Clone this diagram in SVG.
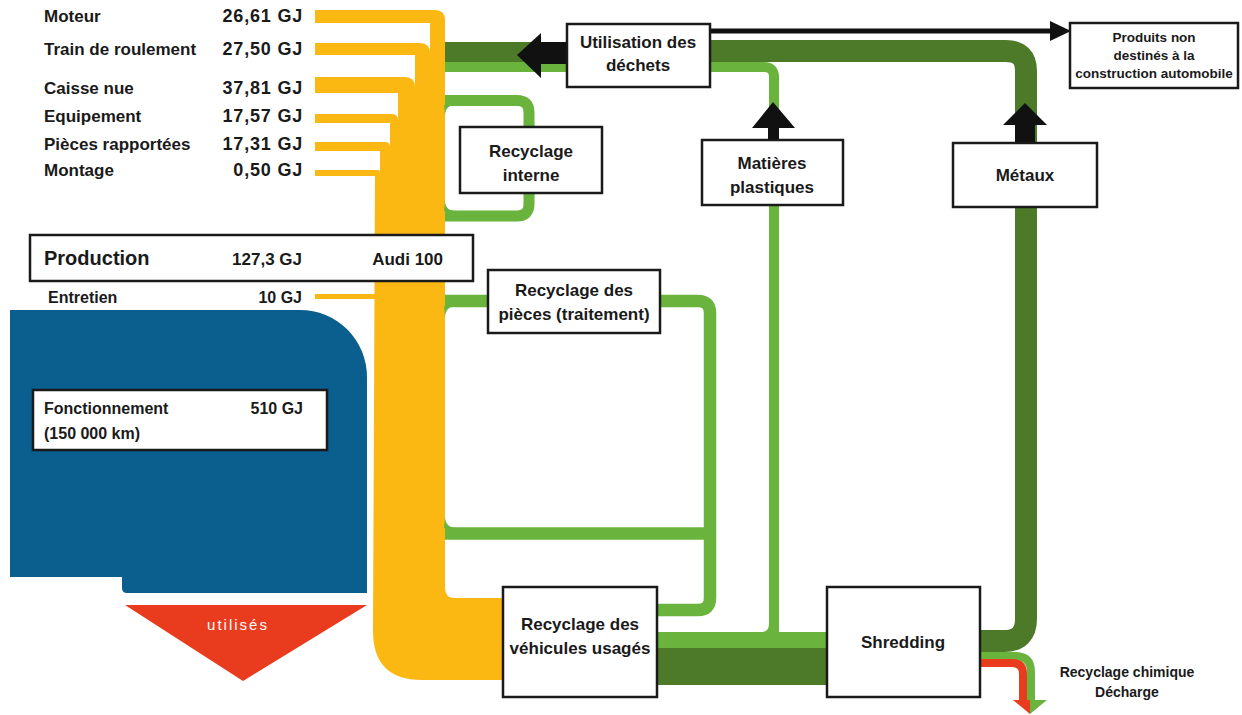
<svg xmlns="http://www.w3.org/2000/svg" width="1242" height="715" viewBox="0 0 1242 715">
<style>
text{font-family:"Liberation Sans",Arial,sans-serif;font-weight:bold;fill:#1a1a1a}
.box{fill:#ffffff;stroke:#1a1a1a;stroke-width:2.5}
.lbl{font-size:17px}
.val{font-size:18px;text-anchor:end;letter-spacing:0.8px}
.bt{font-size:17px;text-anchor:middle}
.sm{font-size:13.5px;text-anchor:middle}
.yl{fill:#fbb813}
.dg{fill:#4d7a28}
.lg{fill:#6ab43e}
.dgs{fill:none;stroke:#4d7a28}
.lgs{fill:none;stroke:#6ab43e}
.blk{fill:#111111}
</style>
<rect x="0" y="0" width="1242" height="715" fill="#ffffff"/>

<g id="fonctionnement-area">
<path d="M10,310 H300 A67,67 0 0 1 367,377 V593 H127 Q122,593 122,588 V577 H10 Z" fill="#0a5f8f"/>
<polygon points="125,605 367,605 243,681" fill="#e93b1e"/>
<text x="238" y="630" style="font-size:15px;font-weight:normal;fill:#ffffff;letter-spacing:2px" text-anchor="middle">utilisés</text>
</g>

<g id="connectors">
<!-- yellow production branches -->
<path class="yl" d="M315,10 H435 Q445,10 445,20 V300 H430 V23 H315 Z"/>
<path class="yl" d="M315,43 H420 Q430,43 430,53 V300 H415 V55 H315 Z"/>
<path class="yl" d="M315,77 H405 Q415,77 415,87 V300 H398 V93 H315 Z"/>
<path class="yl" d="M315,114 H392 Q398,114 398,120 V300 H390 V123 H315 Z"/>
<path class="yl" d="M315,142 H385 Q390,142 390,147 V300 H380 V151 H315 Z"/>
<path class="yl" d="M315,170 H378 Q380,170 380,172 V300 H375 V176 H315 Z"/>
<rect class="yl" x="315" y="294" width="62" height="5"/>
<path class="yl" d="M375,176 H445 V588 Q445,598 455,598 H510 V680 H422 Q373,680 373,631 Z"/>
<!-- recyclage interne loop -->
<path class="lgs" stroke-width="11" d="M445,100.5 H517 Q529,100.5 529,112.5 V204 Q529,216 517,216 H445"/>
<path class="lg" d="M444,105 H456 Q445,105 445,116 Z"/>
<path class="lg" d="M444,211 H456 Q445,211 445,200 Z"/>
<!-- recyclage pieces loop -->
<path class="lgs" stroke-width="12.5" d="M445,301 H698 Q710,301 710,313 V598 Q710,610 698,610 H655"/>
<path class="lgs" stroke-width="12.5" d="M445,533.5 H710"/>
<path class="lg" d="M444,306 H457 Q445,306 445,318 Z"/>
<path class="lg" d="M444,528 H457 Q445,528 445,516 Z"/>
<!-- plastics line -->
<rect class="lg" x="445" y="62" width="124" height="10"/>
<path class="lgs" stroke-width="10" d="M708,67 H764 Q774,67 774,77 V628"/>
<path class="lg" d="M655,632 H761 Q769,632 769,624 V610 H779 V632 H829 V648 H655 Z"/>
<!-- dark green main flow -->
<rect class="dg" x="445" y="42" width="124" height="20"/>
<path class="dgs" stroke-width="22" d="M708,51 H1006 Q1026,51 1026,71 V619 Q1026,641 1004,641 H978"/>
<rect class="dg" x="655" y="648" width="174" height="37"/>
<!-- chemical recycling / landfill -->
<path fill="none" stroke="#6ab43e" stroke-width="8" d="M978,656 H1015 Q1031,656 1031,672 V702"/>
<path fill="none" stroke="#e93b1e" stroke-width="8" d="M978,663 H1012 Q1023,663 1023,674 V702"/>
<polygon points="1013,700 1030,700 1030,714" fill="#e93b1e"/>
<polygon points="1030,700 1047,700 1030,714" fill="#6ab43e"/>
<!-- black arrows -->
<rect class="blk" x="537" y="42" width="31" height="22"/>
<polygon class="blk" points="517,55 541,33 541,78"/>
<line x1="710" y1="31" x2="1052" y2="31" stroke="#111111" stroke-width="5"/>
<polygon class="blk" points="1050,21 1071,31 1050,41"/>
<rect class="blk" x="768" y="126" width="11" height="15"/>
<polygon class="blk" points="752,128 773,102 795,128"/>
<rect class="blk" x="1015" y="123" width="20" height="21"/>
<polygon class="blk" points="1003,125 1025,103 1047,125"/>
</g>

<g id="production-inputs">
<text class="lbl" x="44" y="22">Moteur</text>
<text class="val" x="303" y="22">26,61 GJ</text>
<text class="lbl" x="44" y="55">Train de roulement</text>
<text class="val" x="303" y="55">27,50 GJ</text>
<text class="lbl" x="44" y="94">Caisse nue</text>
<text class="val" x="303" y="94">37,81 GJ</text>
<text class="lbl" x="44" y="122">Equipement</text>
<text class="val" x="303" y="122">17,57 GJ</text>
<text class="lbl" x="44" y="150">Pièces rapportées</text>
<text class="val" x="303" y="150">17,31 GJ</text>
<text class="lbl" x="44" y="176">Montage</text>
<text class="val" x="303" y="176">0,50 GJ</text>
</g>

<g id="production">
<rect class="box" x="30" y="235" width="443" height="46"/>
<text x="44" y="265" style="font-size:20px">Production</text>
<text x="302" y="265" style="font-size:17px" text-anchor="end">127,3 GJ</text>
<text x="443" y="265" style="font-size:17px" text-anchor="end">Audi 100</text>
</g>

<g id="entretien">
<text x="48" y="303" style="font-size:16px">Entretien</text>
<text x="302" y="303" style="font-size:16px" text-anchor="end">10 GJ</text>
</g>

<g id="fonctionnement">
<rect class="box" x="33" y="390" width="294" height="60"/>
<text x="44" y="414" style="font-size:16px">Fonctionnement</text>
<text x="303" y="414" style="font-size:16px" text-anchor="end">510 GJ</text>
<text x="44" y="439" style="font-size:16px">(150 000 km)</text>
</g>

<g id="utilisation-dechets">
<rect class="box" x="567" y="24" width="143" height="63"/>
<text class="bt" x="638" y="48">Utilisation des</text>
<text class="bt" x="638" y="71">déchets</text>
</g>

<g id="produits-non-auto">
<rect class="box" x="1070" y="23" width="168" height="65"/>
<text class="sm" x="1154" y="42">Produits non</text>
<text class="sm" x="1154" y="60">destinés à la</text>
<text class="sm" x="1154" y="78">construction automobile</text>
</g>

<g id="recyclage-interne">
<rect class="box" x="460" y="127" width="142" height="66"/>
<text class="bt" x="531" y="157">Recyclage</text>
<text class="bt" x="531" y="181">interne</text>
</g>

<g id="matieres-plastiques">
<rect class="box" x="702" y="140" width="141" height="65"/>
<text class="bt" x="772" y="169">Matières</text>
<text class="bt" x="772" y="193">plastiques</text>
</g>

<g id="metaux">
<rect class="box" x="953" y="143" width="144" height="64"/>
<text class="bt" x="1025" y="181">Métaux</text>
</g>

<g id="recyclage-pieces">
<rect class="box" x="488" y="270" width="172" height="63"/>
<text class="bt" x="574" y="296">Recyclage des</text>
<text class="bt" x="574" y="320">pièces (traitement)</text>
</g>

<g id="recyclage-vehicules">
<rect class="box" x="503" y="587" width="154" height="110"/>
<text class="bt" x="580" y="630">Recyclage des</text>
<text class="bt" x="580" y="654">véhicules usagés</text>
</g>

<g id="shredding">
<rect class="box" x="827" y="587" width="153" height="110"/>
<text class="bt" x="903" y="648">Shredding</text>
</g>

<g id="recyclage-chimique">
<text class="sm" x="1127" y="677" style="font-size:14px">Recyclage chimique</text>
<text class="sm" x="1127" y="697" style="font-size:14px">Décharge</text>
</g>
</svg>
